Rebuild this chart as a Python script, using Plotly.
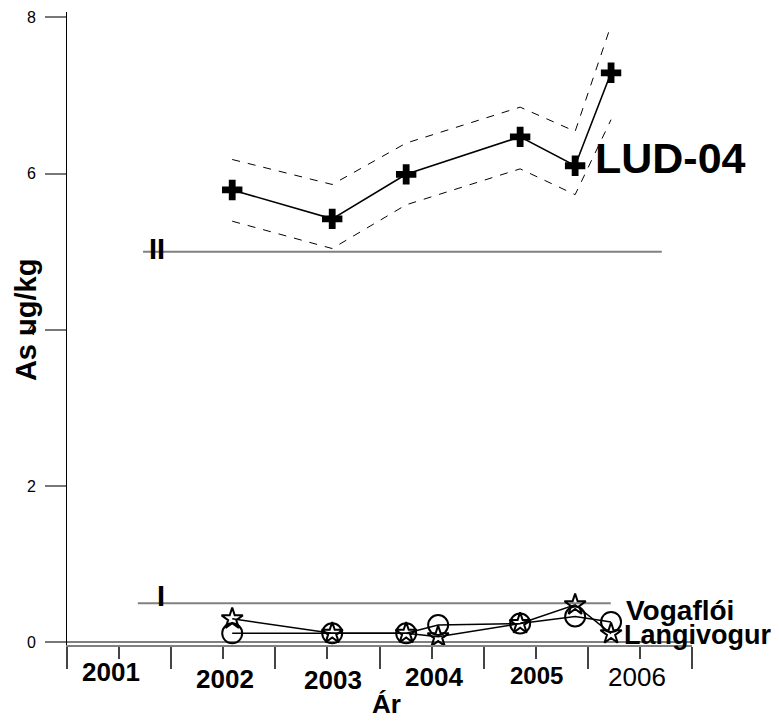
import plotly.graph_objects as go

# ---------------- data ----------------
dates_lud = [2002.586, 2003.546, 2004.256, 2005.350, 2005.878, 2006.223]
lud04 = [5.79, 5.42, 5.99, 6.47, 6.10, 7.29]
lud04_upper = [6.18, 5.86, 6.39, 6.85, 6.54, 7.90]
lud04_lower = [5.39, 5.04, 5.60, 6.06, 5.73, 6.69]

dates_low = [2002.586, 2003.546, 2004.256, 2004.563, 2005.350, 2005.878, 2006.223]
vogafloi = [0.115, 0.115, 0.115, 0.22, 0.24, 0.33, 0.26]
langivogur = [0.30, 0.115, 0.115, 0.07, 0.24, 0.48, 0.11]

class_II_x = [2001.73, 2006.71]
class_II_y = [5.0, 5.0]
class_I_x = [2001.68, 2006.22]
class_I_y = [0.5, 0.5]

year_labels = ["2001", "2002", "2003", "2004", "2005", "2006"]
y_ticks = [0, 2, 4, 6, 8]

FONT = "Arial, Liberation Sans, Helvetica, sans-serif"

fig = go.Figure()

# class limit lines
for xs, ys in [(class_II_x, class_II_y), (class_I_x, class_I_y)]:
    fig.add_trace(go.Scatter(x=xs, y=ys, mode="lines",
                             line=dict(color="#808080", width=2), showlegend=False))

# LUD-04 confidence band (dashed)
for band in (lud04_upper, lud04_lower):
    fig.add_trace(go.Scatter(x=dates_lud, y=band, mode="lines",
                             line=dict(color="black", width=1, dash="8px,8px"),
                             showlegend=False))

# LUD-04
fig.add_trace(go.Scatter(x=dates_lud, y=lud04, mode="lines+markers",
                         line=dict(color="black", width=1.6),
                         marker=dict(symbol="cross", size=17, color="black",
                                     line=dict(width=0)),
                         showlegend=False))

# Vogaflói (circles)
fig.add_trace(go.Scatter(x=dates_low, y=vogafloi, mode="lines+markers",
                         line=dict(color="black", width=1.5),
                         marker=dict(symbol="circle-open", size=20,
                                     color="black", line=dict(width=2)),
                         showlegend=False))
# Langivogur (stars)
fig.add_trace(go.Scatter(x=dates_low, y=langivogur, mode="lines+markers",
                         line=dict(color="black", width=1.5),
                         marker=dict(symbol="star-open", size=16,
                                     color="black", line=dict(width=2)),
                         showlegend=False))


def label(x, y, text, size, angle=0, ref="paper"):
    return dict(x=x, y=y, xref=ref, yref=ref, text=text, showarrow=False,
                xanchor="center", yanchor="middle", textangle=angle,
                font=dict(family=FONT, size=size, color="black"))


ann = []
# year labels (paper coordinates)
year_pos = [(0.0696, -0.0420), (0.2528, -0.0530), (0.4248, -0.0555),
            (0.5872, -0.0500), (0.7504, -0.0485), (0.9120, -0.0500)]
year_size = [26, 26, 26, 26, 24, 26]
for i, lab in enumerate(year_labels):
    bold = lab != "2006"
    ann.append(label(year_pos[i][0], year_pos[i][1],
                     f"<b>{lab}</b>" if bold else lab, year_size[i]))
# axis titles
ann.append(label(0.5104, -0.0925, "<b>Ár</b>", 26))
ann.append(label(-0.0655, 0.5134, "<b>As ug/kg</b>", 29, angle=-90))
# series labels
ann.append(label(0.9648, 0.7686, "<b>LUD-04</b>", 43))
ann.append(label(0.9808, 0.0540, "<b>Vogaflói</b>", 28))
ann.append(label(1.0080, 0.0158, "<b>Langivogur</b>", 27))
# class marks
ann.append(label(2001.86, 5.04, "<b>II</b>", 29))
ann[-1].update(xref="x", yref="y")
ann.append(label(2001.90, 0.59, "<b>I</b>", 29))
ann[-1].update(xref="x", yref="y")

# page body has an 8px margin: figure size/margins compensate for it
fig.update_layout(
    width=771, height=713,
    margin=dict(l=59, r=87, t=4, b=76, autoexpand=False),
    paper_bgcolor="white", plot_bgcolor="white",
    annotations=ann,
    font=dict(family=FONT, color="black"),
    showlegend=False,
)
fig.update_xaxes(
    range=[2001, 2007], showgrid=False, zeroline=False,
    showline=True, linecolor="#808080", linewidth=1.5,
    ticks="outside", tick0=2001, dtick=1, ticklen=22, tickwidth=1.5,
    tickcolor="#444", showticklabels=False,
    minor=dict(ticks="outside", tick0=2001, dtick=0.5, ticklen=12,
               tickwidth=1.5, tickcolor="#444", showgrid=False),
)
fig.update_yaxes(
    range=[-0.035, 8.068], showgrid=False,
    zeroline=True, zerolinecolor="#808080", zerolinewidth=1.5,
    showline=True, linecolor="black", linewidth=1,
    ticks="outside", tickvals=y_ticks, ticklen=21, tickwidth=1.5,
    tickcolor="#777", ticklabelstandoff=6,
    tickfont=dict(family=FONT, size=16, color="black"),
)

fig.write_html("out.html")
